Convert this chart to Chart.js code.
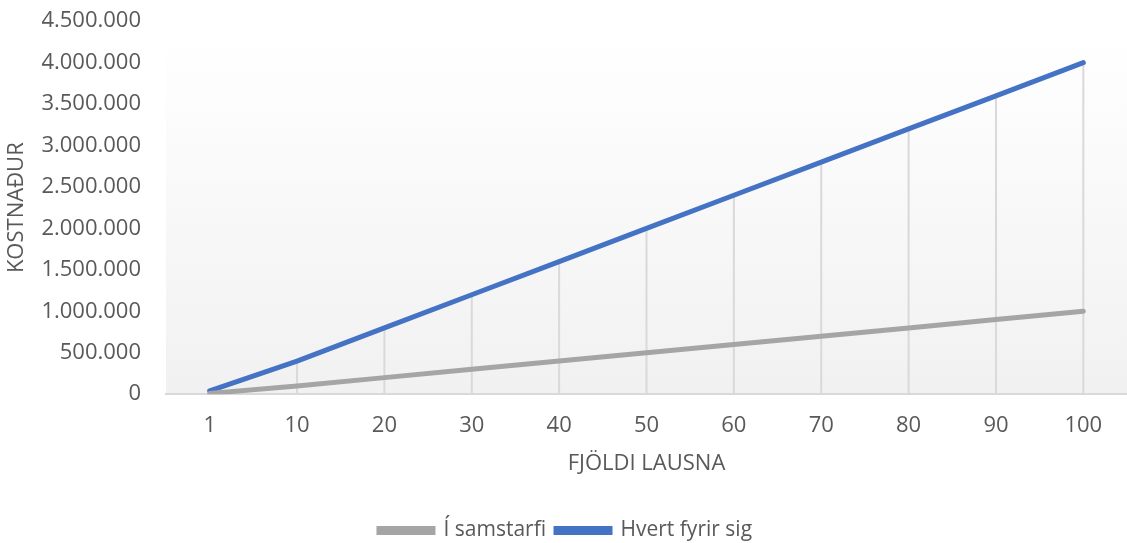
<!DOCTYPE html>
<html>
<head>
<meta charset="utf-8">
<script src="https://cdn.jsdelivr.net/npm/chart.js@4/dist/chart.umd.min.js"></script>
<style>
  html, body {margin: 0; padding: 0; background: #ffffff;}
  #wrap {width: 1127px; height: 543px; overflow: hidden;}
  #innri {width: 1127px; height: 560px; margin-top: -17px;}
</style>
</head>
<body>
<div id="wrap"><div id="innri"><canvas id="grafico"></canvas></div></div>
<script>
const flokkar = ["1", "10", "20", "30", "40", "50", "60", "70", "80", "90", "100"];
const iSamstarfi = [10000, 100000, 200000, 300000, 400000, 500000, 600000, 700000, 800000, 900000, 1000000];
const hvertFyrirSig = [40000, 400000, 800000, 1200000, 1600000, 2000000, 2400000, 2800000, 3200000, 3600000, 4000000];

const letur = "'Open Sans', sans-serif";
const textaLitur = "#595959";
const stafir = 22;

// Bakgrunnur teiknisvæðis (hallandi grátt)
const bakgrunnur = {
    id: "bakgrunnur",
    beforeDraw(chart) {
        const {ctx, chartArea} = chart;
        const g = ctx.createLinearGradient(0, chartArea.top, 0, chartArea.bottom);
        g.addColorStop(0, "#ffffff");
        g.addColorStop(0.1, "#fefefe");
        g.addColorStop(1, "#f1f1f1");
        ctx.save();
        ctx.fillStyle = g;
        ctx.fillRect(chartArea.left, chartArea.top, chartArea.right - chartArea.left, chartArea.bottom - chartArea.top);
        ctx.restore();
    }
};

// Fallínur frá hæsta punkti niður á x-ás
const fallinur = {
    id: "fallinur",
    beforeDatasetsDraw(chart) {
        const {ctx, chartArea} = chart;
        const punktar = chart.getDatasetMeta(1).data;
        ctx.save();
        ctx.strokeStyle = "#d9d9d9";
        ctx.lineWidth = 2;
        punktar.forEach(p => {
            ctx.beginPath();
            ctx.moveTo(p.x, p.y);
            ctx.lineTo(p.x, chartArea.bottom);
            ctx.stroke();
        });
        ctx.restore();
    }
};

new Chart(
    document.getElementById("grafico"),
    {
        type: "line",
        data: {
            labels: flokkar,
            datasets: [
                {label: "Í samstarfi", data: iSamstarfi, borderColor: "#a5a5a5", backgroundColor: "#a5a5a5", borderWidth: 5, pointRadius: 0, borderCapStyle: "round"},
                {label: "Hvert fyrir sig", data: hvertFyrirSig, borderColor: "#4472c4", backgroundColor: "#4472c4", borderWidth: 5, pointRadius: 0, borderCapStyle: "round"}
            ]
        },
        options: {
            responsive: true,
            maintainAspectRatio: false,
            animation: false,
            layout: {padding: {top: 0, right: 0, left: 4, bottom: -8}},
            plugins: {
                tooltip: {enabled: false},
                legend: {
                    position: "bottom",
                    labels: {
                        font: {family: letur, size: 21},
                        color: textaLitur,
                        boxWidth: 54,
                        boxHeight: 4,
                        padding: 10
                    }
                }
            },
            scales: {
                x: {
                    offset: true,
                    grid: {display: false, drawTicks: false},
                    border: {display: true, color: "#d9d9d9", width: 2},
                    ticks: {font: {family: letur, size: stafir}, color: textaLitur, padding: 18},
                    title: {display: true, text: "FJÖLDI LAUSNA", font: {family: letur, size: stafir}, color: textaLitur, padding: {top: -6, bottom: 33}}
                },
                y: {
                    min: 0,
                    max: 4500000,
                    grid: {display: false, drawTicks: false},
                    border: {display: false},
                    afterFit: skali => { skali.width = 162; },
                    ticks: {
                        stepSize: 500000,
                        font: {family: letur, size: stafir},
                        color: textaLitur,
                        padding: 25,
                        callback: v => String(v).replace(/\B(?=(\d{3})+(?!\d))/g, ".")
                    },
                    title: {display: true, text: "KOSTNAÐUR", font: {family: letur, size: stafir}, color: textaLitur, padding: {top: 0, bottom: 4}}
                }
            }
        },
        plugins: [bakgrunnur, fallinur]
    }
);
</script>
</body>
</html>
